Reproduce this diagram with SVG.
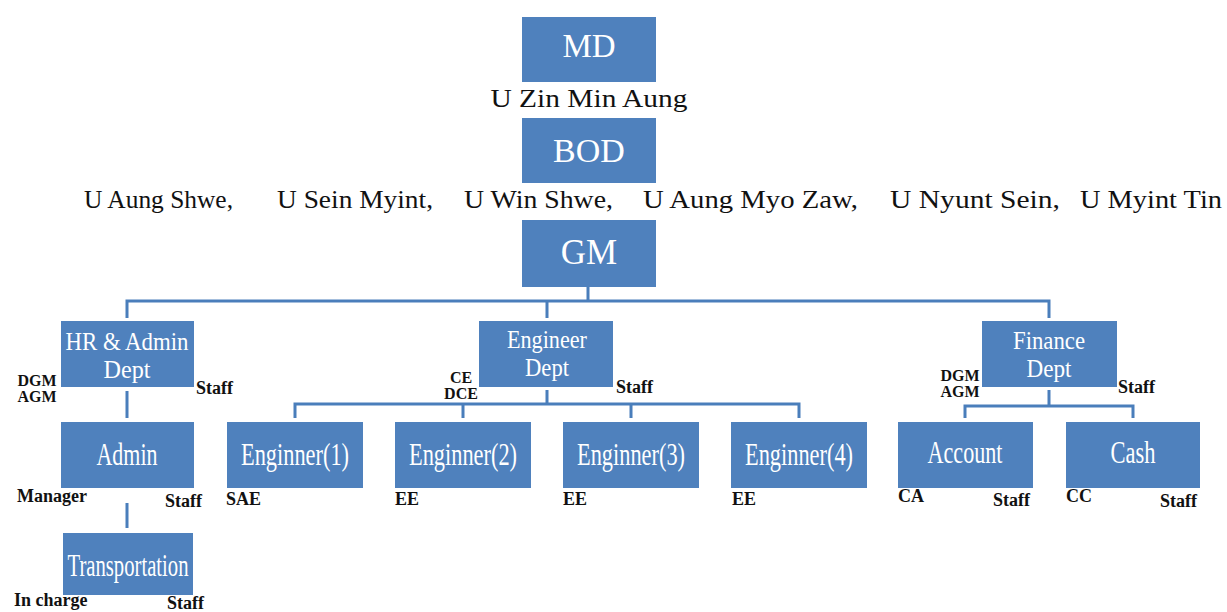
<svg xmlns="http://www.w3.org/2000/svg" width="1227" height="612" viewBox="0 0 1227 612">
<style>
.box{fill:#4f81bd}
.bt{font-family:"Liberation Serif","Times New Roman","DejaVu Serif",serif;fill:#ffffff;text-anchor:middle;font-size:31px}
.two{font-size:25px}
.name{font-family:"Liberation Serif","Times New Roman","DejaVu Serif",serif;fill:#111111;font-size:26px}
.lbl{font-family:"Liberation Serif","Times New Roman","DejaVu Serif",serif;fill:#111111;font-size:18px;font-weight:bold}
.stk{font-size:16px}
.mid{text-anchor:middle}
.conn{stroke:#4a7ebb;stroke-width:3;fill:none}
</style>
<rect width="1227" height="612" fill="#ffffff"/>
<g id="connectors">
<path class="conn" d="M588 287 V301 M127 318 V301 H1049 V318 M547 301 V318"/>
<path class="conn" d="M127 391 V418 M127 503 V528"/>
<path class="conn" d="M547 390 V404 M295 418 V404 H799 V418 M463 404 V418 M631 404 V418"/>
<path class="conn" d="M1049 390 V406 M965 418 V406 H1133 V418"/>
</g>
<g id="md">
<rect class="box" x="522" y="17" width="134" height="65"/>
<text class="bt" x="589" y="57" style="font-size:33px">MD</text>
<text class="name mid" x="589" y="107" textLength="197" lengthAdjust="spacingAndGlyphs">U Zin Min Aung</text>
</g>
<g id="bod">
<rect class="box" x="522" y="118" width="134" height="65"/>
<text class="bt" x="589" y="162" style="font-size:34px">BOD</text>
<text class="name" x="84" y="208" textLength="149" lengthAdjust="spacingAndGlyphs">U Aung Shwe,</text>
<text class="name" x="277" y="208" textLength="156" lengthAdjust="spacingAndGlyphs">U Sein Myint,</text>
<text class="name" x="464" y="208" textLength="149" lengthAdjust="spacingAndGlyphs">U Win Shwe,</text>
<text class="name" x="643" y="208" textLength="215" lengthAdjust="spacingAndGlyphs">U Aung Myo Zaw,</text>
<text class="name" x="890" y="208" textLength="170" lengthAdjust="spacingAndGlyphs">U Nyunt Sein,</text>
<text class="name" x="1080" y="208" textLength="142" lengthAdjust="spacingAndGlyphs">U Myint Tin</text>
</g>
<g id="gm">
<rect class="box" x="522" y="220" width="134" height="67"/>
<text class="bt" x="589" y="264" style="font-size:35px">GM</text>
</g>
<g id="hr">
<rect class="box" x="61" y="321" width="133" height="66"/>
<text class="bt two" x="127" y="350" textLength="123" lengthAdjust="spacingAndGlyphs">HR &amp; Admin</text>
<text class="bt two" x="127" y="378" textLength="47" lengthAdjust="spacingAndGlyphs">Dept</text>
<text class="lbl stk mid" x="37" y="386">DGM</text>
<text class="lbl stk mid" x="37" y="402">AGM</text>
<text class="lbl" x="196" y="394">Staff</text>
</g>
<g id="engdept">
<rect class="box" x="479" y="321" width="134" height="66"/>
<text class="bt two" x="547" y="348" textLength="80" lengthAdjust="spacingAndGlyphs">Engineer</text>
<text class="bt two" x="547" y="376" textLength="44" lengthAdjust="spacingAndGlyphs">Dept</text>
<text class="lbl stk mid" x="461" y="383">CE</text>
<text class="lbl stk mid" x="461" y="399">DCE</text>
<text class="lbl" x="616" y="393">Staff</text>
</g>
<g id="finance">
<rect class="box" x="982" y="321" width="135" height="66"/>
<text class="bt two" x="1049" y="349" textLength="72" lengthAdjust="spacingAndGlyphs">Finance</text>
<text class="bt two" x="1049" y="377" textLength="45" lengthAdjust="spacingAndGlyphs">Dept</text>
<text class="lbl stk mid" x="960" y="381">DGM</text>
<text class="lbl stk mid" x="960" y="397">AGM</text>
<text class="lbl" x="1118" y="393">Staff</text>
</g>
<g id="admin">
<rect class="box" x="61" y="422" width="133" height="66"/>
<text class="bt" x="127" y="465" textLength="61" lengthAdjust="spacingAndGlyphs">Admin</text>
<text class="lbl" x="17" y="502">Manager</text>
<text class="lbl" x="165" y="507">Staff</text>
</g>
<g id="transport">
<rect class="box" x="63" y="533" width="130" height="62"/>
<text class="bt" x="128" y="576" textLength="121" lengthAdjust="spacingAndGlyphs">Transportation</text>
<text class="lbl" x="14" y="606">In charge</text>
<text class="lbl" x="167" y="609">Staff</text>
</g>
<g id="eng1">
<rect class="box" x="227" y="422" width="136" height="66"/>
<text class="bt" x="295" y="465" textLength="108" lengthAdjust="spacingAndGlyphs">Enginner(1)</text>
<text class="lbl" x="226" y="505">SAE</text>
</g>
<g id="eng2">
<rect class="box" x="395" y="422" width="136" height="66"/>
<text class="bt" x="463" y="465" textLength="108" lengthAdjust="spacingAndGlyphs">Enginner(2)</text>
<text class="lbl" x="395" y="505">EE</text>
</g>
<g id="eng3">
<rect class="box" x="563" y="422" width="136" height="66"/>
<text class="bt" x="631" y="465" textLength="108" lengthAdjust="spacingAndGlyphs">Enginner(3)</text>
<text class="lbl" x="563" y="505">EE</text>
</g>
<g id="eng4">
<rect class="box" x="731" y="422" width="136" height="66"/>
<text class="bt" x="799" y="465" textLength="108" lengthAdjust="spacingAndGlyphs">Enginner(4)</text>
<text class="lbl" x="732" y="505">EE</text>
</g>
<g id="account">
<rect class="box" x="898" y="422" width="135" height="66"/>
<text class="bt" x="965" y="463" textLength="75" lengthAdjust="spacingAndGlyphs">Account</text>
<text class="lbl" x="898" y="502">CA</text>
<text class="lbl" x="993" y="506">Staff</text>
</g>
<g id="cash">
<rect class="box" x="1066" y="422" width="134" height="66"/>
<text class="bt" x="1133" y="463" textLength="45" lengthAdjust="spacingAndGlyphs">Cash</text>
<text class="lbl" x="1066" y="502">CC</text>
<text class="lbl" x="1160" y="507">Staff</text>
</g>
</svg>
